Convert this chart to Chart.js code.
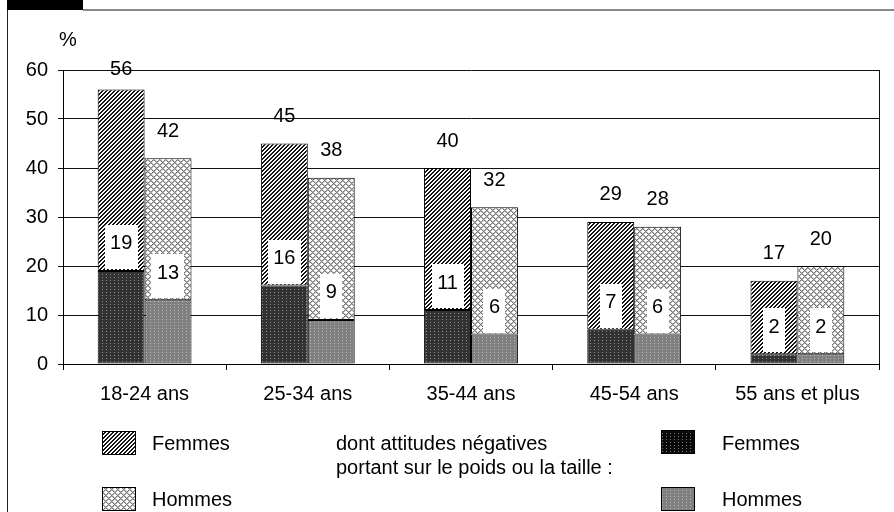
<!DOCTYPE html>
<html>
<head>
<meta charset="utf-8">
<script src="https://cdn.jsdelivr.net/npm/chart.js@4/dist/chart.umd.min.js"></script>
<style>
  html, body { margin: 0; padding: 0; background: #fff; }
  canvas { display: block; }
</style>
</head>
<body>
<canvas id="c" width="894" height="512"></canvas>
<script>
// Age groups on the x axis
const categories = ['18-24 ans', '25-34 ans', '35-44 ans', '45-54 ans', '55 ans et plus'];
// Share of people (%) reporting negative attitudes, by sex
const femmesTotal = [56, 45, 40, 29, 17];
const hommesTotal = [42, 38, 32, 28, 20];
// ... of which related to weight or height
const femmesPoids = [19, 16, 11, 7, 2];
const hommesPoids = [13, 9, 6, 6, 2];
// y axis ticks
const yTicks = [0, 10, 20, 30, 40, 50, 60];

const FONT_FAMILY = '"Liberation Sans", Arial, Helvetica, sans-serif';
const FONT = '20px ' + FONT_FAMILY;

// Remaining part of each total once the weight/height share is stacked below it
const femmesReste = femmesTotal.map((v, i) => v - femmesPoids[i]);
const hommesReste = hommesTotal.map((v, i) => v - hommesPoids[i]);

// ---- fill patterns built pixel by pixel ----
function makePattern(w, h, painter) {
  const c = document.createElement('canvas');
  c.width = w; c.height = h;
  const g = c.getContext('2d');
  const img = g.createImageData(w, h);
  for (let y = 0; y < h; y++) {
    for (let x = 0; x < w; x++) {
      const col = painter(x, y);
      const k = (y * w + x) * 4;
      img.data[k] = col[0]; img.data[k + 1] = col[1]; img.data[k + 2] = col[2]; img.data[k + 3] = 255;
    }
  }
  g.putImageData(img, 0, 0);
  return document.getElementById('c').getContext('2d').createPattern(c, 'repeat');
}
const WHITE = [255, 255, 255];
// diagonal "/" hatching
const hatchFemmes = makePattern(4, 4, (x, y) => ((x + y) % 4 < 2 ? [20, 20, 20] : WHITE));
// grey chain-mesh
const meshHommes = makePattern(6, 6, (x, y) => {
  const a = (x + y) % 6, b = (x - y + 6) % 6;
  if (a === 0 || b === 0) return [120, 120, 120];
  if (a === 1 || b === 1) return [185, 185, 185];
  return WHITE;
});
// dark dotted fills
const dotsFemmes = makePattern(4, 3, (x, y) => (x === 2 && y === 1 ? [140, 140, 140] : [50, 50, 50]));
const dotsHommes = makePattern(4, 3, (x, y) => (x === 2 && y === 1 ? [185, 185, 185] : [128, 128, 128]));
const dotsFemmesLegend = makePattern(4, 3, (x, y) => (x === 2 && y === 1 ? [120, 120, 120] : [10, 10, 10]));

// ---- value labels: totals above bars, weight/height share in white boxes ----
const valueLabels = {
  id: 'valueLabels',
  afterDatasetsDraw(chart) {
    const ctx = chart.ctx;
    const area = chart.chartArea;
    ctx.save();
    ctx.font = FONT;
    ctx.textAlign = 'center';
    ctx.textBaseline = 'middle';
    const groups = [
      { low: 0, high: 1, totals: femmesTotal, parts: femmesPoids },
      { low: 2, high: 3, totals: hommesTotal, parts: hommesPoids }
    ];
    groups.forEach(gr => {
      const lowMeta = chart.getDatasetMeta(gr.low);
      const highMeta = chart.getDatasetMeta(gr.high);
      gr.totals.forEach((t, i) => {
        const top = highMeta.data[i];
        const base = lowMeta.data[i];
        // total above the bar
        const ty = Math.max(top.y - 27, area.top - 1);
        ctx.fillStyle = '#000';
        ctx.fillText(String(t), top.x, ty);
        // share label boxed in white, just above the dark segment
        const txt = String(gr.parts[i]);
        const w = ctx.measureText(txt).width + 11;
        ctx.fillStyle = '#fff';
        ctx.fillRect(Math.round(base.x - w / 2), Math.round(base.y - 46), Math.round(w), 44);
        ctx.fillStyle = '#000';
        ctx.fillText(txt, base.x, base.y - 27);
      });
    });
    ctx.restore();
  },
  afterDraw(chart) {
    const ctx = chart.ctx;
    const area = chart.chartArea;
    ctx.save();
    // right edge of the plot
    ctx.strokeStyle = '#111';
    ctx.lineWidth = 1;
    ctx.beginPath();
    ctx.moveTo(Math.round(area.right) + 0.5, area.top);
    ctx.lineTo(Math.round(area.right) + 0.5, area.bottom);
    ctx.stroke();

    // page frame
    ctx.fillStyle = '#000';
    ctx.fillRect(7, 0, 76, 10);
    ctx.fillStyle = '#888';
    ctx.fillRect(83, 9, 811, 2);
    ctx.fillStyle = '#222';
    ctx.fillRect(7, 10, 1, 502);

    // unit
    ctx.fillStyle = '#000';
    ctx.font = FONT;
    ctx.textAlign = 'left';
    ctx.textBaseline = 'middle';
    ctx.fillText('%', 59, 40);

    // legend
    const swatch = (x, y, fill) => {
      ctx.fillStyle = fill;
      ctx.fillRect(x, y, 34, 24);
      ctx.strokeStyle = '#000';
      ctx.lineWidth = 1;
      ctx.strokeRect(x + 0.5, y + 0.5, 33, 23);
    };
    swatch(102, 431, hatchFemmes);
    swatch(102, 487, meshHommes);
    swatch(661, 430, dotsFemmesLegend);
    swatch(661, 487, dotsHommes);
    ctx.fillStyle = '#000';
    ctx.fillText('Femmes', 152, 444);
    ctx.fillText('Hommes', 152, 500);
    ctx.fillText('dont attitudes négatives', 336, 444);
    ctx.fillText('portant sur le poids ou la taille :', 336, 468);
    ctx.fillText('Femmes', 722, 444);
    ctx.fillText('Hommes', 722, 500);
    ctx.restore();
  }
};

new Chart(document.getElementById('c'), {
  type: 'bar',
  data: {
    labels: categories,
    datasets: [
      { label: 'Femmes (poids ou taille)', data: femmesPoids, stack: 'F', backgroundColor: dotsFemmes },
      { label: 'Femmes', data: femmesReste, stack: 'F', backgroundColor: hatchFemmes },
      { label: 'Hommes (poids ou taille)', data: hommesPoids, stack: 'H', backgroundColor: dotsHommes },
      { label: 'Hommes', data: hommesReste, stack: 'H', backgroundColor: meshHommes }
    ]
  },
  options: {
    responsive: false,
    devicePixelRatio: 1,
    animation: false,
    events: [],
    layout: { padding: { top: 70, right: 15, left: 0, bottom: 0 } },
    datasets: {
      bar: {
        borderColor: '#000',
        borderWidth: 1,
        borderSkipped: false,
        categoryPercentage: 0.575,
        barPercentage: 1.0
      }
    },
    plugins: {
      legend: { display: false },
      tooltip: { enabled: false },
      title: { display: false }
    },
    scales: {
      x: {
        stacked: true,
        afterFit(scale) { scale.height = 148; },
        grid: { offset: true, drawOnChartArea: false, drawTicks: true, tickLength: 6, color: '#000' },
        border: { display: true, color: '#000' },
        ticks: { color: '#000', font: { family: FONT_FAMILY, size: 20 }, padding: 12, maxRotation: 0 }
      },
      y: {
        stacked: true,
        min: 0,
        max: 60,
        afterFit(scale) { scale.width = 63; },
        afterBuildTicks(scale) { scale.ticks = yTicks.map(v => ({ value: v })); },
        grid: { color: '#111', lineWidth: 1, drawTicks: true, tickLength: 5 },
        border: { display: true, color: '#000' },
        ticks: { color: '#000', font: { family: FONT_FAMILY, size: 20 }, padding: 10 }
      }
    }
  },
  plugins: [valueLabels]
});
</script>
</body>
</html>
